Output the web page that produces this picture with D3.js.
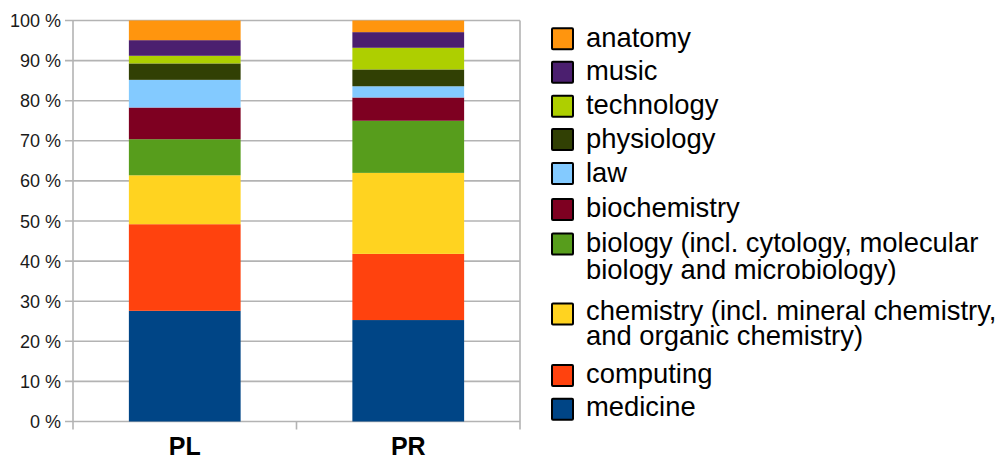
<!DOCTYPE html>
<html><head><meta charset="utf-8">
<script src="https://cdn.jsdelivr.net/npm/d3@7"></script>
<style>body{margin:0;background:#fff;} svg{display:block;}</style>
</head><body>
<svg id="c" width="1002" height="459"></svg>
<script>
const categories = ["PL", "PR"];
const subjects = ["medicine", "computing", "chemistry", "biology", "biochemistry", "law", "physiology", "technology", "music", "anatomy"];
const legendLabels = {
  medicine: ["medicine"],
  computing: ["computing"],
  chemistry: ["chemistry (incl. mineral chemistry,", "and organic chemistry)"],
  biology: ["biology (incl. cytology, molecular", "biology and microbiology)"],
  biochemistry: ["biochemistry"],
  law: ["law"],
  physiology: ["physiology"],
  technology: ["technology"],
  music: ["music"],
  anatomy: ["anatomy"]
};
const valuesPL = [27.6, 21.6, 12.2, 9.0, 7.9, 6.9, 4.1, 1.9, 3.9, 4.9];
const valuesPR = [25.3, 16.5, 20.2, 13.0, 5.8, 2.8, 4.2, 5.4, 3.9, 2.9];
const colors = ["#004586", "#ff420e", "#ffd320", "#579d1c", "#7e0021", "#83caff", "#314004", "#aecf00", "#4b1f6f", "#ff950e"];
const yTicks = [0, 10, 20, 30, 40, 50, 60, 70, 80, 90, 100];

const svg = d3.select("#c");
const pLeft = 73, pRight = 520, pTop = 20.5, pBottom = 421.5;
const x = d3.scaleBand().domain(categories).range([pLeft, pRight]).paddingInner(0).paddingOuter(0);
const y = d3.scaleLinear().domain([0, 100]).range([pBottom, pTop]);
const color = d3.scaleOrdinal().domain(subjects).range(colors);

const rows = categories.map((c, i) => {
  const r = {cat: c};
  const vals = i === 0 ? valuesPL : valuesPR;
  subjects.forEach((s, j) => r[s] = vals[j]);
  return r;
});
const series = d3.stack().keys(subjects)(rows);

const grid = "#b3b3b3";
svg.append("g").selectAll("line").data(yTicks).join("line")
  .attr("x1", pLeft - 8).attr("x2", pRight)
  .attr("y1", d => y(d)).attr("y2", d => y(d))
  .attr("stroke", grid).attr("stroke-width", 1.6);
[pLeft, pRight].forEach(xx => svg.append("line").attr("x1", xx).attr("x2", xx)
  .attr("y1", pTop).attr("y2", pBottom + 8).attr("stroke", grid).attr("stroke-width", 1.6));
svg.append("line").attr("x1", pLeft + x.bandwidth()).attr("x2", pLeft + x.bandwidth())
  .attr("y1", pBottom).attr("y2", pBottom + 8).attr("stroke", grid).attr("stroke-width", 1.6);

const bw = x.bandwidth() * 0.5;
svg.append("g").selectAll("g").data(series).join("g")
  .attr("fill", d => color(d.key))
  .selectAll("rect").data(d => d).join("rect")
  .attr("x", d => x(d.data.cat) + (x.bandwidth() - bw) / 2)
  .attr("width", bw)
  .attr("y", d => y(d[1]))
  .attr("height", d => y(d[0]) - y(d[1]));

svg.append("g").selectAll("text").data(yTicks).join("text")
  .attr("x", 61).attr("y", d => y(d) + 6.5)
  .attr("text-anchor", "end")
  .attr("font-family", "Liberation Sans, Arial, sans-serif")
  .attr("font-size", 18).attr("fill", "#1a1a1a")
  .text(d => d + " %");

svg.append("g").selectAll("text").data(categories).join("text")
  .attr("x", d => x(d) + x.bandwidth() / 2).attr("y", 455)
  .attr("text-anchor", "middle")
  .attr("font-family", "Liberation Sans, Arial, sans-serif")
  .attr("font-weight", "bold")
  .attr("font-size", 25).attr("fill", "#000")
  .text(d => d);

const legendOrder = subjects.slice().reverse();
const legendTops = [27.3, 60.7, 94.7, 128, 162, 198, 232.5, 302.5, 364, 397.7];
const legendBase = [46.7, 79.5, 113.5, 147.5, 181.5, 217.3, 252.3, 319.5, 382.7, 416];
const legendGap = [27, 27, 27, 27, 27, 27, 27, 25, 27, 27];
const lg = svg.append("g");
legendOrder.forEach((s, i) => {
  const t = legendTops[i];
  lg.append("rect").attr("x", 552).attr("y", t + 1).attr("width", 21).attr("height", 21)
    .attr("fill", color(s)).attr("stroke", "#000").attr("stroke-width", 2).attr("rx", 1);
  legendLabels[s].forEach((ln, k) => {
    lg.append("text").attr("x", 586).attr("y", legendBase[i] + k * legendGap[i])
      .attr("font-family", "Liberation Sans, Arial, sans-serif")
      .attr("font-size", 27.4).attr("fill", "#000")
      .text(ln);
  });
});
</script>
</body></html>
